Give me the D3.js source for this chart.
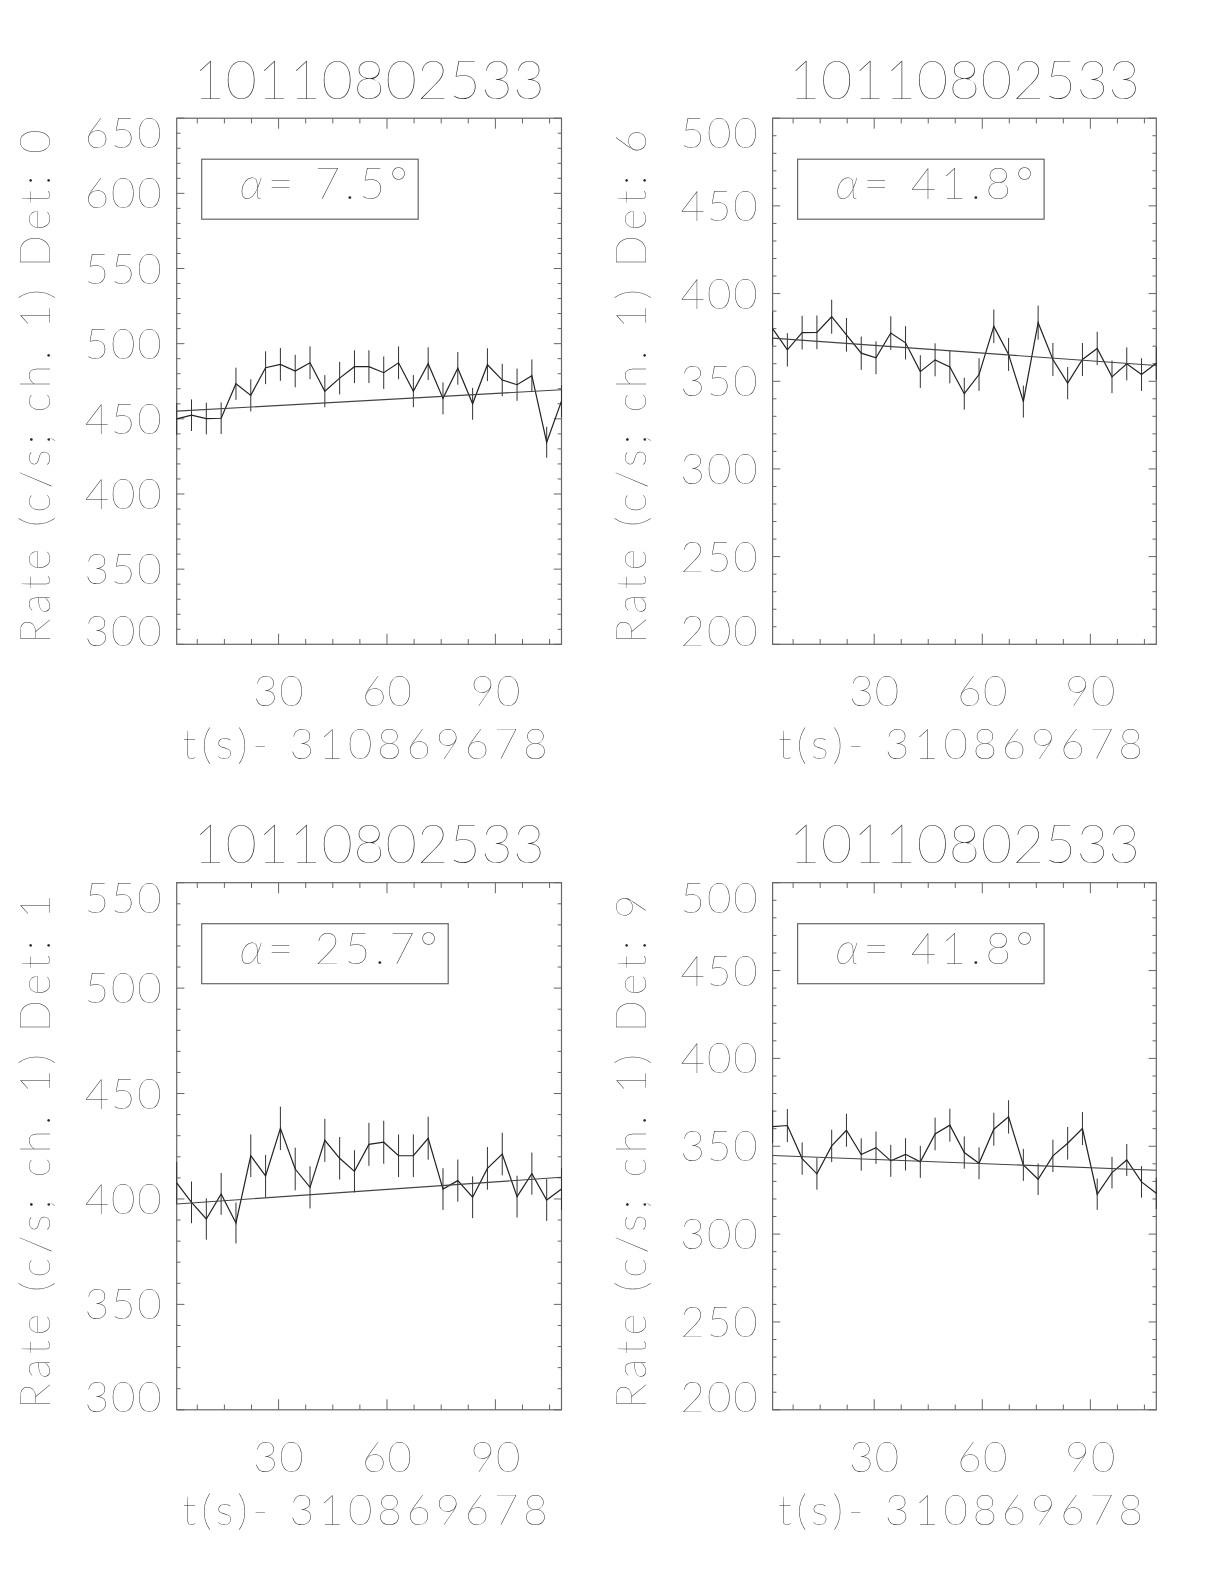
<!DOCTYPE html>
<html>
<head>
<meta charset="utf-8">
<script src="https://cdn.jsdelivr.net/npm/d3@7"></script>
<style>
  body { margin: 0; background: #fff; }
  svg { filter: grayscale(100%); }
  svg text { font-family: "Lato", "DejaVu Sans", sans-serif; font-weight: 200; fill: #2a2a2a; }
</style>
</head>
<body>
<script>
// ---------------------- DATA ----------------------

const obsId = "10110802533";
const xLabel = "t(s)- 310869678";

// bin centres, seconds after the reference time
const times = [1.8, 5.9, 10.0, 14.1, 18.2, 22.3, 26.4, 30.5, 34.6, 38.7, 42.8, 46.9, 51.0, 55.0,
               59.1, 63.2, 67.3, 71.4, 75.5, 79.6, 83.7, 87.8, 91.9, 96.0, 100.1, 104.2, 108.3];

const xTicks = [30, 60, 90];
const xMinorTicks = [7.5, 15, 22.5, 37.5, 45, 52.5, 67.5, 75, 82.5, 97.5, 105];

// panel order: top-left, top-right, bottom-left, bottom-right
const detectors = [0, 6, 1, 9];
const alphas = ["7.5", "41.8", "25.7", "41.8"];
const yDomains = [[300, 650], [200, 500], [300, 550], [200, 500]];

const rateDet0 = [450.0, 452.4, 450.2, 450.4, 473.3, 465.6, 484.0, 486.2, 481.8, 487.3, 468.4, 477.1, 484.7, 484.7,
                  480.7, 487.3, 468.4, 486.7, 463.6, 483.6, 460.0, 486.0, 475.8, 472.7, 478.7, 434.4, 461.8];
const errDet0  = [10.5, 10.5, 10.5, 10.5, 10.7, 10.7, 10.9, 10.9, 10.8, 10.9, 10.7, 10.8, 10.9, 10.9,
                  10.8, 10.9, 10.7, 10.9, 10.6, 10.9, 10.6, 10.9, 10.8, 10.7, 10.8, 10.3, 10.6];
const fitDet0  = [455.1, 469.3];

const rateDet6 = [380.0, 367.9, 377.7, 377.9, 386.8, 376.5, 366.0, 363.4, 377.5, 371.9, 355.5, 362.2, 358.2, 342.9,
                  353.8, 381.3, 365.3, 338.4, 383.4, 362.4, 348.9, 362.4, 368.7, 352.5, 359.9, 353.8, 360.3];
const errDet6  = [9.6, 9.5, 9.6, 9.6, 9.7, 9.6, 9.5, 9.4, 9.6, 9.5, 9.3, 9.4, 9.4, 9.1,
                  9.3, 9.6, 9.4, 9.1, 9.7, 9.4, 9.2, 9.4, 9.5, 9.3, 9.4, 9.3, 9.4];
const fitDet6  = [374.6, 359.0];

const rateDet1 = [407.6, 398.4, 390.5, 402.4, 388.6, 420.5, 410.9, 433.5, 414.2, 405.5, 427.8, 419.3, 413.1, 425.9,
                  426.9, 420.5, 420.5, 428.8, 404.7, 408.7, 400.8, 414.5, 421.3, 401.1, 412.0, 399.5, 404.7];
const errDet1  = [10.0, 9.9, 9.8, 9.9, 9.7, 10.1, 10.0, 10.3, 10.1, 10.0, 10.2, 10.1, 10.0, 10.2,
                  10.2, 10.1, 10.1, 10.2, 9.9, 10.0, 9.9, 10.1, 10.1, 9.9, 10.0, 9.9, 9.9];
const fitDet1  = [397.6, 410.3];

const rateDet9 = [361.2, 361.8, 343.0, 334.3, 350.2, 359.1, 345.3, 349.2, 341.7, 345.4, 341.1, 357.0, 362.0, 346.4,
                  340.3, 359.7, 366.7, 339.4, 331.2, 344.5, 351.7, 360.1, 322.7, 335.0, 342.2, 329.7, 323.2];
const errDet9  = [9.4, 9.4, 9.2, 9.0, 9.2, 9.4, 9.2, 9.2, 9.1, 9.2, 9.1, 9.3, 9.4, 9.2,
                  9.1, 9.4, 9.5, 9.1, 9.0, 9.2, 9.3, 9.4, 8.9, 9.0, 9.1, 9.0, 8.9];
const fitDet9  = [344.7, 336.3];

const rates = [rateDet0, rateDet6, rateDet1, rateDet9];
const errors = [errDet0, errDet6, errDet1, errDet9];
const fits = [fitDet0, fitDet6, fitDet1, fitDet9];

// ---------------------- LAYOUT ----------------------

const cols = [{ left: 176.7, right: 561.5 }, { left: 772.6, right: 1156.3 }];
const rows = [{ top: 118.2, bottom: 644.3 }, { top: 882.7, bottom: 1409.8 }];

const axisColor = "#666";
const lineColor = "#222";

const svg = d3.select("body").append("svg")
    .attr("width", 1224)
    .attr("height", 1584);

function drawPanel(i) {
    const c = cols[i % 2];
    const r = rows[Math.floor(i / 2)];
    const w = c.right - c.left;
    const h = r.bottom - r.top;

    const x = d3.scaleLinear().domain([times[0], times[times.length - 1]]).range([c.left, c.right]);
    const y = d3.scaleLinear().domain(yDomains[i]).range([r.bottom, r.top]);

    const g = svg.append("g");

    // frame
    g.append("rect")
        .attr("x", c.left).attr("y", r.top)
        .attr("width", w).attr("height", h)
        .attr("fill", "none")
        .attr("stroke", axisColor)
        .attr("stroke-width", 1.2);

    // x ticks, bottom and top, pointing inward
    const xMaj = 0.02 * h, xMin = 0.01 * h;
    const xt = xTicks.map(v => ({ v, len: xMaj })).concat(xMinorTicks.map(v => ({ v, len: xMin })));
    g.selectAll(".xtb").data(xt).enter().append("line")
        .attr("x1", d => x(d.v)).attr("x2", d => x(d.v))
        .attr("y1", r.bottom).attr("y2", d => r.bottom - d.len)
        .attr("stroke", axisColor);
    g.selectAll(".xtt").data(xt).enter().append("line")
        .attr("x1", d => x(d.v)).attr("x2", d => x(d.v))
        .attr("y1", r.top).attr("y2", d => r.top + d.len)
        .attr("stroke", axisColor);

    // y ticks: majors every 50, minors every 10
    const [y0, y1] = yDomains[i];
    const yMajorTicks = d3.range(y0, y1 + 1, 50);
    const yMinorTicks = d3.range(y0, y1 + 1, 10).filter(v => v % 50 !== 0);
    const yMaj = 0.02 * w, yMin = 0.01 * w;
    const yt = yMajorTicks.map(v => ({ v, len: yMaj })).concat(yMinorTicks.map(v => ({ v, len: yMin })));
    g.selectAll(".ytl").data(yt).enter().append("line")
        .attr("x1", c.left).attr("x2", d => c.left + d.len)
        .attr("y1", d => y(d.v)).attr("y2", d => y(d.v))
        .attr("stroke", axisColor);
    g.selectAll(".ytr").data(yt).enter().append("line")
        .attr("x1", c.right).attr("x2", d => c.right - d.len)
        .attr("y1", d => y(d.v)).attr("y2", d => y(d.v))
        .attr("stroke", axisColor);

    // x tick labels
    g.selectAll(".xl").data(xTicks).enter().append("text")
        .attr("x", d => x(d)).attr("y", r.bottom + 62)
        .attr("text-anchor", "middle")
        .attr("font-size", 42)
        .attr("textLength", 50).attr("lengthAdjust", "spacing")
        .text(d => d);

    // y tick labels (end labels kept inside the axis span)
    g.selectAll(".yl").data(yMajorTicks).enter().append("text")
        .attr("x", c.left - 15)
        .attr("y", (d, k) => k === 0 ? r.bottom + 2
                         : k === yMajorTicks.length - 1 ? r.top + 30
                         : y(d) + 15)
        .attr("text-anchor", "end")
        .attr("font-size", 42)
        .attr("textLength", 77).attr("lengthAdjust", "spacing")
        .text(d => d);

    // title
    g.append("text")
        .attr("x", (c.left + c.right) / 2).attr("y", r.top - 19.5)
        .attr("text-anchor", "middle")
        .attr("font-size", 54)
        .attr("textLength", 351).attr("lengthAdjust", "spacing")
        .text(obsId);

    // x axis title
    g.append("text")
        .attr("x", (c.left + c.right) / 2 - 4).attr("y", r.bottom + 115)
        .attr("text-anchor", "middle")
        .attr("font-size", 42)
        .attr("textLength", 365).attr("lengthAdjust", "spacing")
        .text(xLabel);

    // y axis title
    g.append("text")
        .attr("transform", `translate(${c.left - 127},${(r.top + r.bottom) / 2 + 5}) rotate(-90)`)
        .attr("text-anchor", "middle")
        .attr("font-size", 42)
        .attr("textLength", 514).attr("lengthAdjust", "spacing")
        .text(`Rate (c/s; ch. 1) Det: ${detectors[i]}`);

    // error bars
    const pts = times.map((t, k) => ({ t, r: rates[i][k], e: errors[i][k] }));
    g.selectAll(".eb").data(pts).enter().append("line")
        .attr("x1", d => x(d.t)).attr("x2", d => x(d.t))
        .attr("y1", d => y(d.r - d.e)).attr("y2", d => y(d.r + d.e))
        .attr("stroke", "#333")
        .attr("stroke-width", 1);

    // light curve
    g.append("path")
        .datum(pts)
        .attr("d", d3.line().x(d => x(d.t)).y(d => y(d.r)))
        .attr("fill", "none")
        .attr("stroke", lineColor)
        .attr("stroke-width", 1.2);

    // linear fit
    g.append("line")
        .attr("x1", x(times[0])).attr("y1", y(fits[i][0]))
        .attr("x2", x(times[times.length - 1])).attr("y2", y(fits[i][1]))
        .attr("stroke", "#444")
        .attr("stroke-width", 1.1);

    // angle label box
    const label = g.append("text")
        .attr("x", c.left + 63).attr("y", r.top + 81)
        .attr("font-size", 44)
        .attr("letter-spacing", 4.5);
    label.append("tspan").attr("font-style", "italic").text("α");
    label.append("tspan").attr("xml:space", "preserve").style("white-space", "pre")
        .text("= " + alphas[i] + "°");
    const bb = label.node().getBBox();
    const bx = c.left + 25;
    g.insert("rect", "text")
        .attr("x", bx).attr("y", r.top + 41)
        .attr("width", bb.x + bb.width + 6 - bx)
        .attr("height", 60)
        .attr("fill", "none")
        .attr("stroke", axisColor)
        .attr("stroke-width", 1.2);
}

for (let i = 0; i < 4; i++) drawPanel(i);
</script>
</body>
</html>
